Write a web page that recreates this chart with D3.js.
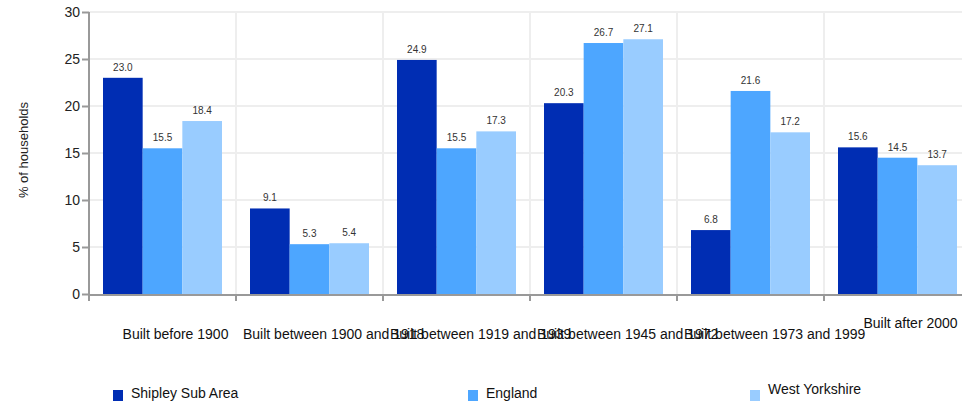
<html>
<head>
<style>
  body { margin: 0; background: #fff; }
  text { font-family: "Liberation Sans", Arial, sans-serif; }
</style>
</head>
<body>
<script src="https://d3js.org/d3.v7.min.js"></script>
<script>
    // chart data
    var categories = ["Built before 1900", "Built between 1900 and 1918", "Built between 1919 and 1939",
        "Built between 1945 and 1972", "Built between 1973 and 1999", "Built after 2000"];
    var seriesNames = ["Shipley Sub Area", "England", "West Yorkshire"];
    var shipley = [23.0, 9.1, 24.9, 20.3, 6.8, 15.6];
    var england = [15.5, 5.3, 15.5, 26.7, 21.6, 14.5];
    var westYorks = [18.4, 5.4, 17.3, 27.1, 17.2, 13.7];
    var yTicks = [0, 5, 10, 15, 20, 25, 30];
    var colors = ["#002db3", "#4da6ff", "#99ccff"];

    var width = 962, height = 403;
    var left = 89, plotTop = 12, bottom = 294;
    var bandW = 147;

    var svg = d3.select("body").append("svg")
        .attr("width", width)
        .attr("height", height);

    var x = d3.scaleBand()
        .domain(categories)
        .range([left, left + bandW * categories.length]);

    var xs = d3.scaleBand()
        .domain(seriesNames)
        .range([14, 133]);

    var y = d3.scaleLinear()
        .domain([0, 30])
        .range([bottom, plotTop]);

    var data = categories.map(function(c, i) {
        return { cat: c, values: [shipley[i], england[i], westYorks[i]] };
    });

    // grid lines
    svg.append("g").selectAll("line").data(yTicks.slice(1)).enter().append("line")
        .attr("x1", left).attr("x2", width)
        .attr("y1", function(d) { return y(d); })
        .attr("y2", function(d) { return y(d); })
        .style("stroke", "#eeeeee").style("stroke-width", 2);

    svg.append("g").selectAll("line").data(categories.slice(1)).enter().append("line")
        .attr("x1", function(d) { return x(d); })
        .attr("x2", function(d) { return x(d); })
        .attr("y1", plotTop).attr("y2", bottom)
        .style("stroke", "#eeeeee").style("stroke-width", 2);

    // bars
    var groups = svg.append("g").selectAll("g").data(data).enter().append("g")
        .attr("transform", function(d) { return "translate(" + x(d.cat) + ",0)"; });

    groups.selectAll("rect").data(function(d) { return d.values; }).enter().append("rect")
        .attr("x", function(d, i) { return xs(seriesNames[i]); })
        .attr("y", function(d) { return y(d); })
        .attr("width", xs.bandwidth())
        .attr("height", function(d) { return bottom - y(d); })
        .style("fill", function(d, i) { return colors[i]; });

    groups.selectAll("text").data(function(d) { return d.values; }).enter().append("text")
        .attr("x", function(d, i) { return xs(seriesNames[i]) + xs.bandwidth() / 2; })
        .attr("y", function(d) { return y(d) - 7; })
        .attr("text-anchor", "middle")
        .style("font-size", "10px")
        .style("fill", "#333")
        .text(function(d) { return d.toFixed(1); });

    // y axis
    var yAxis = svg.append("g")
        .attr("transform", "translate(" + left + ",0)")
        .call(d3.axisLeft(y).tickValues(yTicks).tickSize(7).tickPadding(2));
    yAxis.select(".domain").style("stroke", "#999").style("stroke-width", 2)
        .attr("d", "M0," + plotTop + "V" + (bottom + 1));
    yAxis.selectAll(".tick line").style("stroke", "#999").style("stroke-width", 2);
    yAxis.selectAll(".tick text").style("font-size", "14px").style("fill", "#222")
        .style("font-family", "'Liberation Sans', Arial, sans-serif");

    svg.append("text")
        .attr("transform", "translate(28,150) rotate(-90)")
        .attr("text-anchor", "middle")
        .style("font-size", "13px")
        .style("fill", "#222")
        .text("% of households");

    // x axis
    svg.append("line")
        .attr("x1", left - 1).attr("x2", width)
        .attr("y1", bottom + 1).attr("y2", bottom + 1)
        .style("stroke", "#999").style("stroke-width", 2);

    svg.append("g").selectAll("line").data(categories).enter().append("line")
        .attr("x1", function(d) { return x(d); })
        .attr("x2", function(d) { return x(d); })
        .attr("y1", bottom).attr("y2", bottom + 7)
        .style("stroke", "#999").style("stroke-width", 2);

    // labels: centred a bit right of the band, but never starting before band start + 7
    svg.append("g").selectAll("text").data(categories).enter().append("text")
        .attr("y", function(d, i) { return i == categories.length - 1 ? 328 : 339; })
        .style("font-size", "14px")
        .style("fill", "#111")
        .text(function(d) { return d; })
        .attr("x", function(d) {
            var w = this.getComputedTextLength();
            var c = x(d) + x.bandwidth() / 2 + 13;
            return Math.max(x(d) + 7, c - w / 2);
        });

    // legend
    var legX = [113, 468, 750];
    var legend = svg.append("g").selectAll("g").data(seriesNames).enter().append("g");
    legend.append("rect")
        .attr("x", function(d, i) { return legX[i]; })
        .attr("y", 390)
        .attr("width", 10).attr("height", 11)
        .style("fill", function(d, i) { return colors[i]; });
    legend.append("text")
        .attr("x", function(d, i) { return legX[i] + 18; })
        .attr("y", function(d, i) { return i == 2 ? 394 : 398; })
        .style("font-size", "14px")
        .style("fill", "#111")
        .text(function(d) { return d; });
</script>
</body>
</html>
